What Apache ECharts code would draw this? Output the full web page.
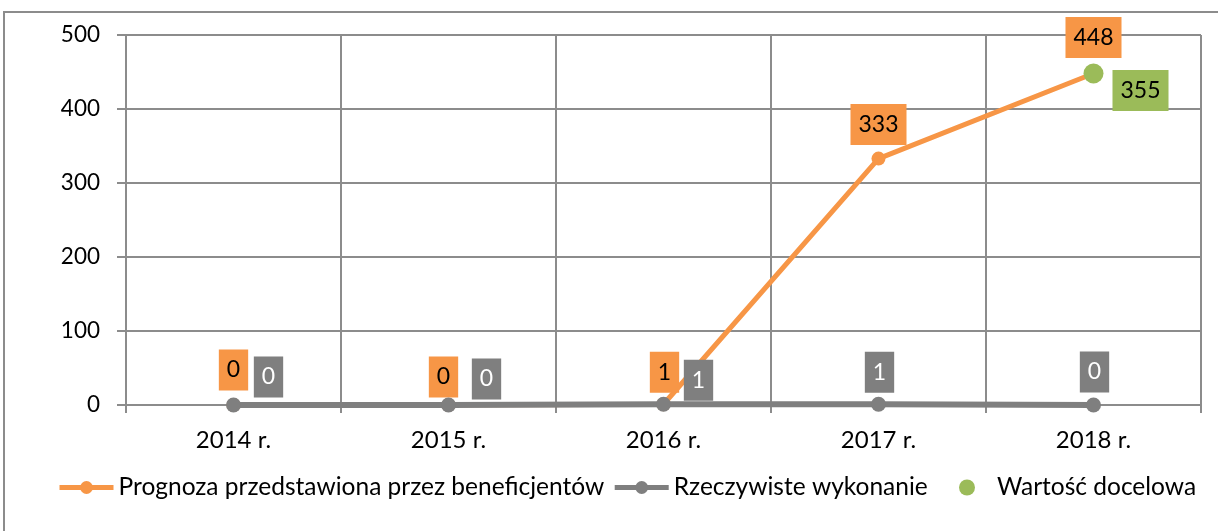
<!DOCTYPE html>
<html>
<head>
<meta charset="utf-8">
<script src="https://cdn.jsdelivr.net/npm/echarts@6/dist/echarts.min.js"></script>
<style>
html, body { margin: 0; padding: 0; background: #fff; }
#chart { width: 1218px; height: 531px; }
</style>
</head>
<body>
<div id="chart"></div>
<script>
//categories and values
var years = ['2014 r.', '2015 r.', '2016 r.', '2017 r.', '2018 r.'];
var prognoza = [0, 0, 1, 333, 448];
var wykonanie = [0, 0, 1, 1, 0];
var docelowa = [null, null, null, null, 448];   //dot sits on the 448 point
var docelowaLabel = ['', '', '', '', '355'];    //but its box says 355

var seriesNames = ['Prognoza przedstawiona przez beneficjentów', 'Rzeczywiste wykonanie', 'Wartość docelowa'];

var colors = {
    orange: '#F79646',
    grey: '#7F7F7F',
    green: '#9BBB59',
    grid: '#8C8C8C'
};

//where each label box sits relative to its point (style only)
var offOrange = [[0, -35], [-5, -28], [1, -32], [0, -34], [0, -36]];
var offGrey = [[35, -28], [38, -26], [35, -24], [1, -32], [1, -33]];
var offGreen = [47, 17];

var font = 'Lato, "Open Sans", sans-serif';

function labelBox(bg, fg, off) {
    return {
        show: true,
        position: 'inside',
        offset: off,
        backgroundColor: bg,
        color: fg,
        fontFamily: font,
        fontSize: 23,
        lineHeight: 23,
        padding: [10, 8, 8, 8]
    };
}

var myChart = echarts.init(document.getElementById('chart'));

option = {
    animation: false,
    color: [colors.orange, colors.grey, colors.green],
    graphic: [{
        type: 'rect',
        shape: { x: 4, y: 12, width: 1240, height: 560 },
        style: { fill: 'none', stroke: '#8C8C8C', lineWidth: 2 },
        silent: true
    }],
    grid: { left: 126, right: 17, top: 35, bottom: 126 },
    legend: [
        {
            left: 57,
            top: 475,
            padding: 0,
            itemWidth: 54,
            itemHeight: 16,
            itemGap: 8,
            textStyle: { fontFamily: font, fontSize: 24.5, color: '#000' },
            data: [
                { name: seriesNames[0], lineStyle: { width: 5 } },
                { name: seriesNames[1], lineStyle: { width: 5 } }
            ]
        },
        {
            //green item sits a bit further right in the original
            left: 959,
            top: 475,
            padding: 0,
            itemWidth: 16,
            itemHeight: 16,
            textStyle: { fontFamily: font, fontSize: 24.5, color: '#000', padding: [0, 0, 0, 17] },
            data: [seriesNames[2]]
        }
    ],
    xAxis: {
        type: 'category',
        data: years,
        boundaryGap: true,
        axisLine: { lineStyle: { color: colors.grid, width: 2 } },
        axisTick: { show: true, length: 8, lineStyle: { color: colors.grid, width: 2 } },
        splitLine: { show: true, lineStyle: { color: colors.grid, width: 2 } },
        axisLabel: { fontFamily: font, fontSize: 24, color: '#000', margin: 23 }
    },
    yAxis: {
        type: 'value',
        min: 0,
        max: 500,
        interval: 100,
        axisLine: { show: true, lineStyle: { color: colors.grid, width: 2 } },
        axisTick: { show: true, length: 9, lineStyle: { color: colors.grid, width: 2 } },
        splitLine: { show: true, lineStyle: { color: colors.grid, width: 2 } },
        axisLabel: { fontFamily: font, fontSize: 22.5, color: '#000', margin: 26 }
    },
    series: [
        {
            name: seriesNames[0],
            type: 'line',
            symbol: 'circle',
            symbolSize: 14,
            z: 2,
            lineStyle: { width: 5, color: colors.orange },
            itemStyle: { color: colors.orange },
            data: prognoza.map(function (v, i) {
                return { value: v, label: labelBox(colors.orange, '#000', offOrange[i]) };
            })
        },
        {
            name: seriesNames[1],
            type: 'line',
            symbol: 'circle',
            symbolSize: 15,
            z: 3,
            lineStyle: { width: 6, color: colors.grey },
            itemStyle: { color: colors.grey },
            data: wykonanie.map(function (v, i) {
                return { value: v, label: labelBox(colors.grey, '#fff', offGrey[i]) };
            })
        },
        {
            name: seriesNames[2],
            type: 'scatter',
            symbol: 'circle',
            symbolSize: 20,
            z: 4,
            itemStyle: { color: colors.green, opacity: 1 },
            label: Object.assign(labelBox(colors.green, '#000', offGreen), {
                formatter: function (p) { return docelowaLabel[p.dataIndex]; }
            }),
            data: docelowa
        }
    ]
};

myChart.setOption(option);
</script>
</body>
</html>
